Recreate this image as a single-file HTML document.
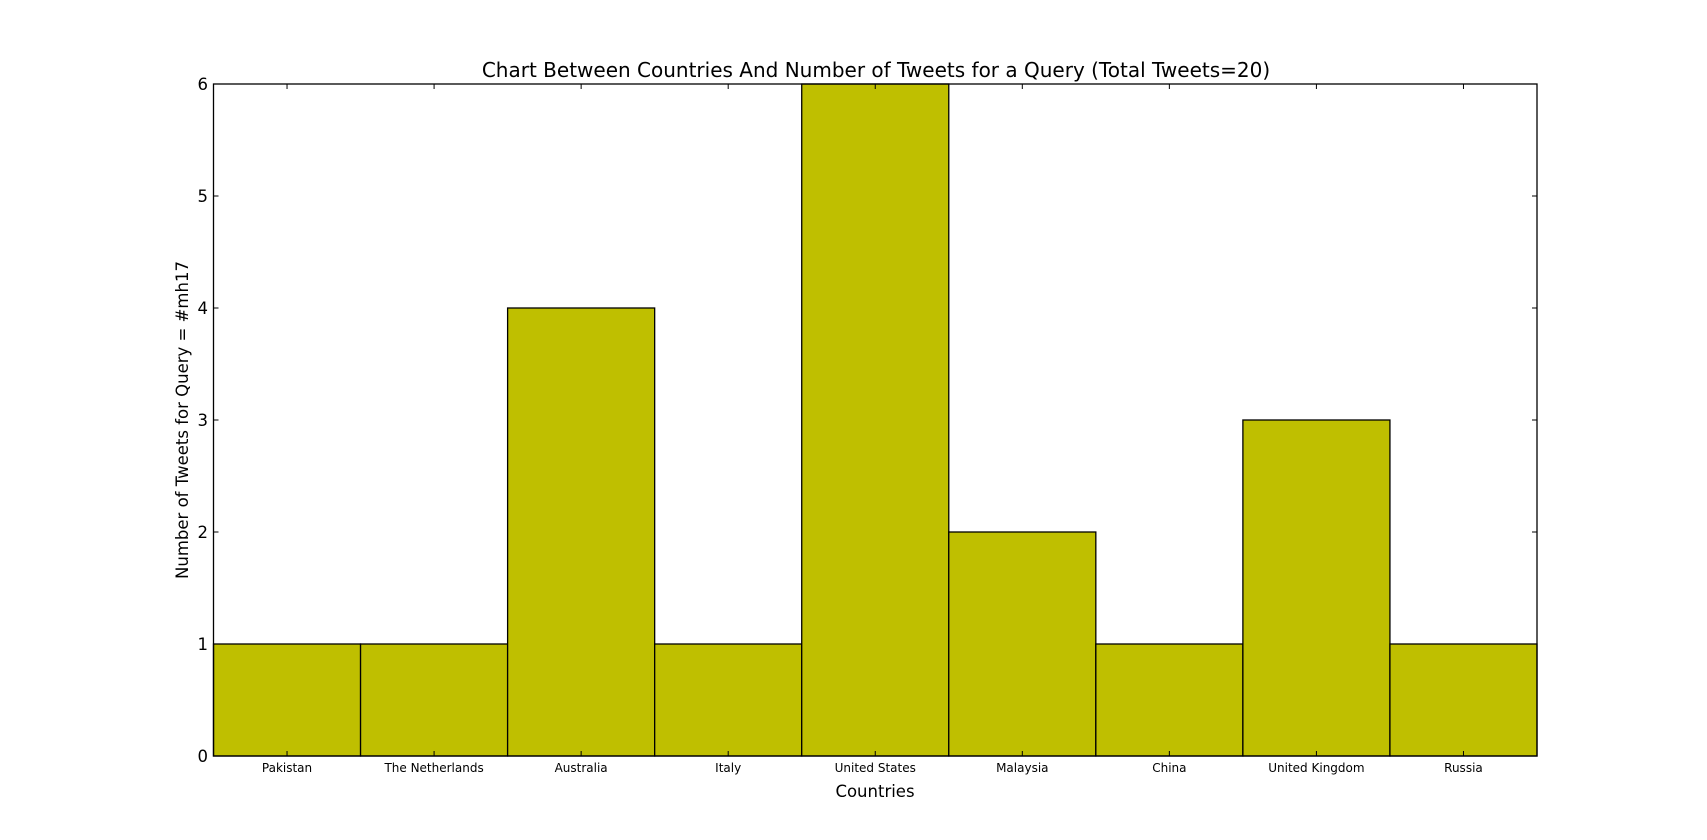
<!DOCTYPE html>
<html><head><meta charset="utf-8"><style>
html,body{margin:0;padding:0;background:#fff;}
svg{display:block;font-family:"DejaVu Sans","Liberation Sans",sans-serif;}
</style></head><body>
<svg id="chart" width="1707" height="840">
<text x="876" y="77" font-size="20" text-anchor="middle">Chart Between Countries And Number of Tweets for a Query (Total Tweets=20)</text>
<text x="875" y="797" font-size="16.5" text-anchor="middle">Countries</text>
<text transform="translate(188,420) rotate(-90)" font-size="16.5" text-anchor="middle">Number of Tweets for Query = #mh17</text>
<g id="bars"></g>
<g id="ticks"></g>
<rect x="213.5" y="84" width="1323.5" height="672" fill="none" stroke="#000" stroke-width="1.3"/>
</svg>
<script>
const categories=["Pakistan","The Netherlands","Australia","Italy","United States","Malaysia","China","United Kingdom","Russia"];
const values=[1,1,4,1,6,2,1,3,1];
const yTicks=[0,1,2,3,4,5,6];
const L=213.5,R=1537,T=84,B=756,yMax=6;
const bw=(R-L)/categories.length;
const xs=i=>L+i*bw;
const ys=v=>B-(v/yMax)*(B-T);
const NS="http://www.w3.org/2000/svg";
const bars=document.getElementById('bars'),ticks=document.getElementById('ticks');
function mk(tag,attrs,parent){const e=document.createElementNS(NS,tag);for(const k in attrs)e.setAttribute(k,attrs[k]);parent.appendChild(e);return e;}
categories.forEach((c,i)=>{
 const r=mk('rect',{x:xs(i),y:ys(values[i]),width:bw,height:B-ys(values[i]),fill:'#bfbf00',stroke:'#000','stroke-width':1.3},bars);
 
 
 const cx=xs(i)+bw/2;
 mk('line',{x1:cx,x2:cx,y1:B,y2:B-5,stroke:'#000'},ticks);
 mk('line',{x1:cx,x2:cx,y1:T,y2:T+5,stroke:'#000'},ticks);
 const t=mk('text',{x:cx,y:772,'font-size':12,'text-anchor':'middle'},ticks);
 t.textContent=c;
 
 
});
yTicks.forEach(v=>{
 const y=ys(v);
 mk('line',{x1:L,x2:L+5,y1:y,y2:y,stroke:'#000'},ticks);
 mk('line',{x1:R,x2:R-5,y1:y,y2:y,stroke:'#000'},ticks);
 const t=mk('text',{x:208,y:y+6,'font-size':16.5,'text-anchor':'end'},ticks);
 t.textContent=v;
 
 
});
</script>
</body></html>
